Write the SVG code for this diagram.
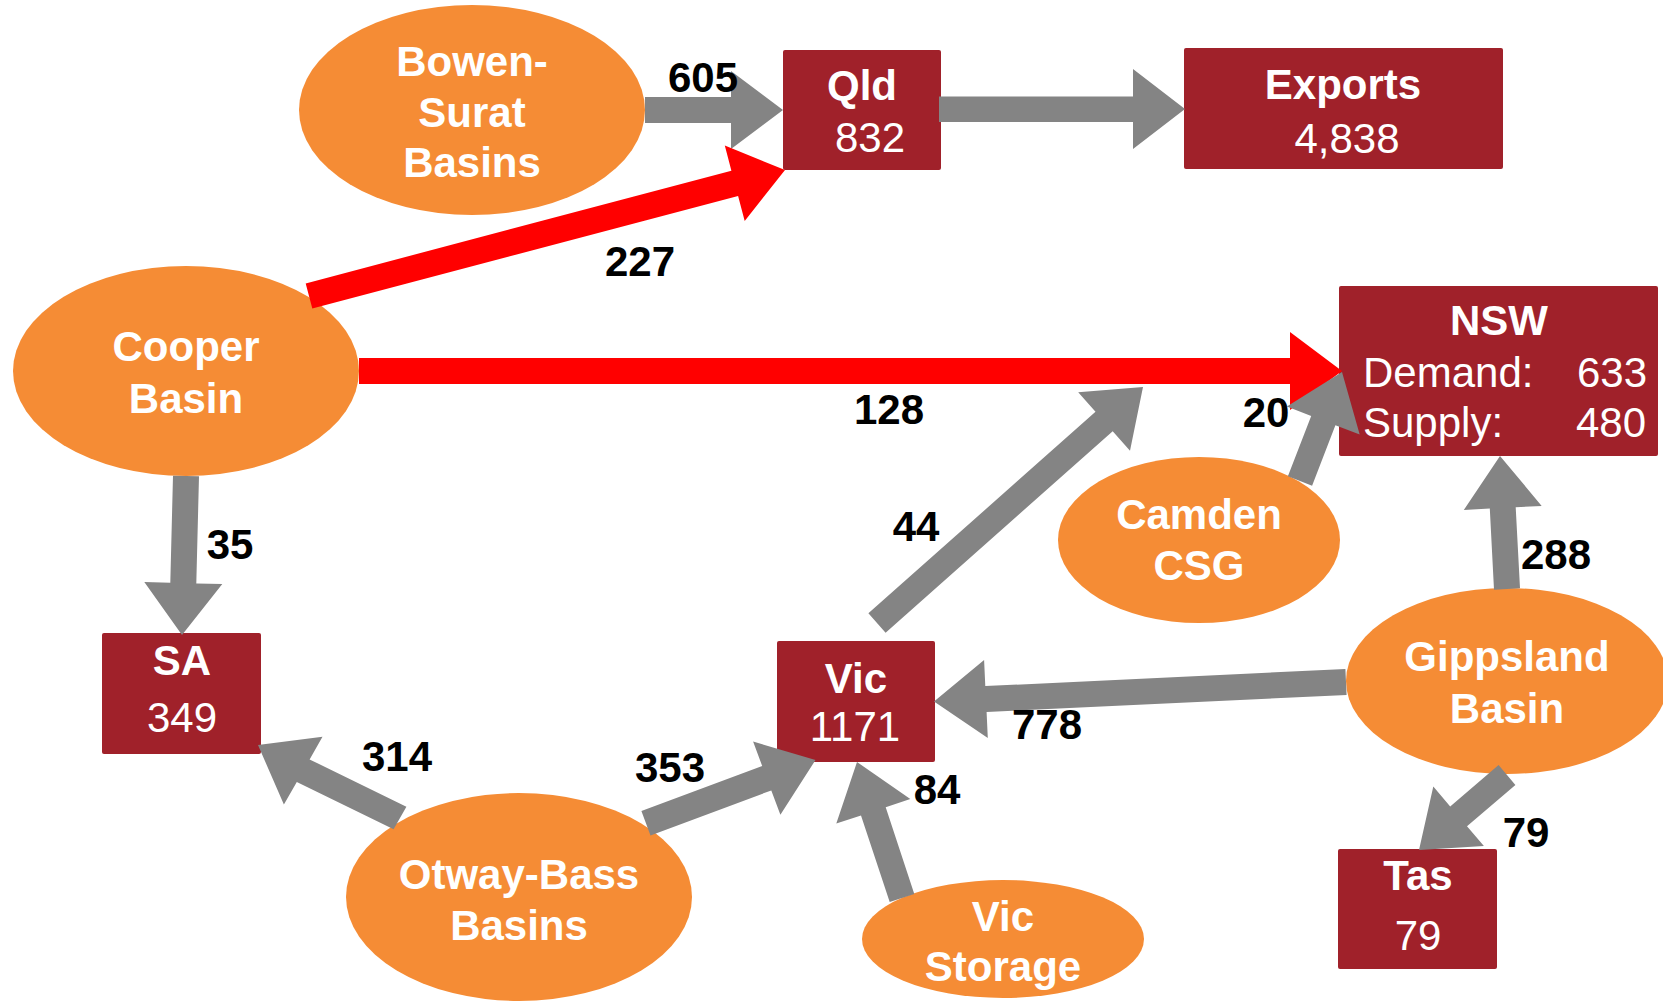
<svg xmlns="http://www.w3.org/2000/svg" width="1663" height="1003" viewBox="0 0 1663 1003">
<style>
.ell{fill:#F58C35}
.box{fill:#A0212A}
.t{font-family:"Liberation Sans",Arial,sans-serif;font-size:42px;fill:#fff;text-anchor:middle}
.b{font-weight:bold}
.g{fill:#848484}
.r{fill:#FF0000}
.lbl{font-family:"Liberation Sans",Arial,sans-serif;font-size:42px;font-weight:bold;fill:#000;text-anchor:middle}
</style>
<rect width="1663" height="1003" fill="#fff"/>
<g id="bowen"><ellipse class="ell" cx="472" cy="110" rx="173" ry="105"/>
<text class="t b" x="472" y="76">Bowen-</text><text class="t b" x="472" y="127">Surat</text><text class="t b" x="472" y="177">Basins</text></g>
<g id="qld"><rect class="box" x="783" y="50" width="158" height="120" rx="2"/>
<text class="t b" x="862" y="100">Qld</text><text class="t" x="870" y="152">832</text></g>
<g id="exports"><rect class="box" x="1184" y="48" width="319" height="121" rx="2"/>
<text class="t b" x="1343" y="99">Exports</text><text class="t" x="1347" y="153">4,838</text></g>
<g id="nsw"><rect class="box" x="1339" y="286" width="319" height="170" rx="2"/>
<text class="t b" x="1499" y="335">NSW</text>
<text class="t" x="1363" y="387" style="text-anchor:start">Demand:</text><text class="t" x="1647" y="387" style="text-anchor:end">633</text>
<text class="t" x="1363" y="437" style="text-anchor:start">Supply:</text><text class="t" x="1646" y="437" style="text-anchor:end">480</text></g>
<g id="cooper"><ellipse class="ell" cx="186" cy="371" rx="173" ry="105"/>
<text class="t b" x="186" y="361">Cooper</text><text class="t b" x="186" y="413">Basin</text></g>
<g id="sa"><rect class="box" x="102" y="633" width="159" height="121" rx="2"/>
<text class="t b" x="182" y="675">SA</text><text class="t" x="182" y="732">349</text></g>
<g id="camden"><ellipse class="ell" cx="1199" cy="540" rx="141" ry="83"/>
<text class="t b" x="1199" y="529">Camden</text><text class="t b" x="1199" y="580">CSG</text></g>
<g id="gippsland"><ellipse class="ell" cx="1507" cy="681" rx="161" ry="93"/>
<text class="t b" x="1507" y="671">Gippsland</text><text class="t b" x="1507" y="723">Basin</text></g>
<g id="vic"><rect class="box" x="777" y="641" width="158" height="121" rx="2"/>
<text class="t b" x="856" y="693">Vic</text><text class="t" x="855" y="741">1171</text></g>
<g id="otway"><ellipse class="ell" cx="519" cy="897" rx="173" ry="104"/>
<text class="t b" x="519" y="889">Otway-Bass</text><text class="t b" x="519" y="940">Basins</text></g>
<g id="vicstorage"><ellipse class="ell" cx="1003" cy="939" rx="141" ry="59"/>
<text class="t b" x="1003" y="931">Vic</text><text class="t b" x="1003" y="981">Storage</text></g>
<g id="tas"><rect class="box" x="1338" y="849" width="159" height="120" rx="2"/>
<text class="t b" x="1418" y="890">Tas</text><text class="t" x="1418" y="950">79</text></g>
<g id="connectors">
<polygon class="g" points="645,97 731,97 731,71 783,110 731,149 731,123 645,123"/>
<polygon class="g" points="939,96.5 1133,96.5 1133,69 1185,109 1133,149 1133,122 939,122"/>
<polygon class="r" points="305.7,283.4 731.4,170.7 724.8,145.6 785,170 744.7,221 738.1,195.9 312.3,308.6"/>
<polygon class="r" points="359,358 1290,358 1290,332 1342,371 1290,410 1290,384 359,384"/>
<polygon class="g" points="173,475.7 170.3,582.7 144.3,582 182,635 222.3,584 196.3,583.4 199,476.3"/>
<polygon class="g" points="406.4,806.7 309.6,759.4 322.5,736.8 258,745 283.9,804.6 296.8,782 393.6,829.3"/>
<polygon class="g" points="641.4,811.1 762.2,766 753.1,741.6 815.5,760 780.4,814.7 771.3,790.4 650.5,835.5"/>
<polygon class="g" points="914.3,893.9 885.7,807.3 910.3,799.1 857,762 836.3,823.6 861,815.4 889.7,902.1"/>
<polygon class="g" points="1345.4,669 985.3,686.1 984.1,660.1 934,701.5 987.8,738 986.6,712 1346.6,695"/>
<polygon class="g" points="868.4,613.3 1095.5,411.8 1078.2,392.3 1143,387 1130,450.7 1112.7,431.2 885.6,632.7"/>
<polygon class="g" points="1287.9,476.3 1311.2,415.9 1286.9,406.5 1342,372 1359.7,434.6 1335.4,425.2 1312.1,485.7"/>
<polygon class="g" points="1494,589.7 1489.8,508.6 1463.8,510 1500,456 1541.7,505.9 1515.7,507.3 1520,588.3"/>
<polygon class="g" points="1498.6,765.1 1450.2,806.4 1433.3,786.6 1419,850 1483.9,846 1467,826.2 1515.4,784.9"/>
<text class="lbl" x="703" y="92">605</text>
<text class="lbl" x="640" y="276">227</text>
<text class="lbl" x="889" y="424">128</text>
<text class="lbl" x="916" y="541">44</text>
<text class="lbl" x="1266" y="427">20</text>
<text class="lbl" x="230" y="559">35</text>
<text class="lbl" x="397" y="771">314</text>
<text class="lbl" x="670" y="782">353</text>
<text class="lbl" x="937" y="804">84</text>
<text class="lbl" x="1047" y="739">778</text>
<text class="lbl" x="1556" y="569">288</text>
<text class="lbl" x="1526" y="847">79</text>
</g>
</svg>
